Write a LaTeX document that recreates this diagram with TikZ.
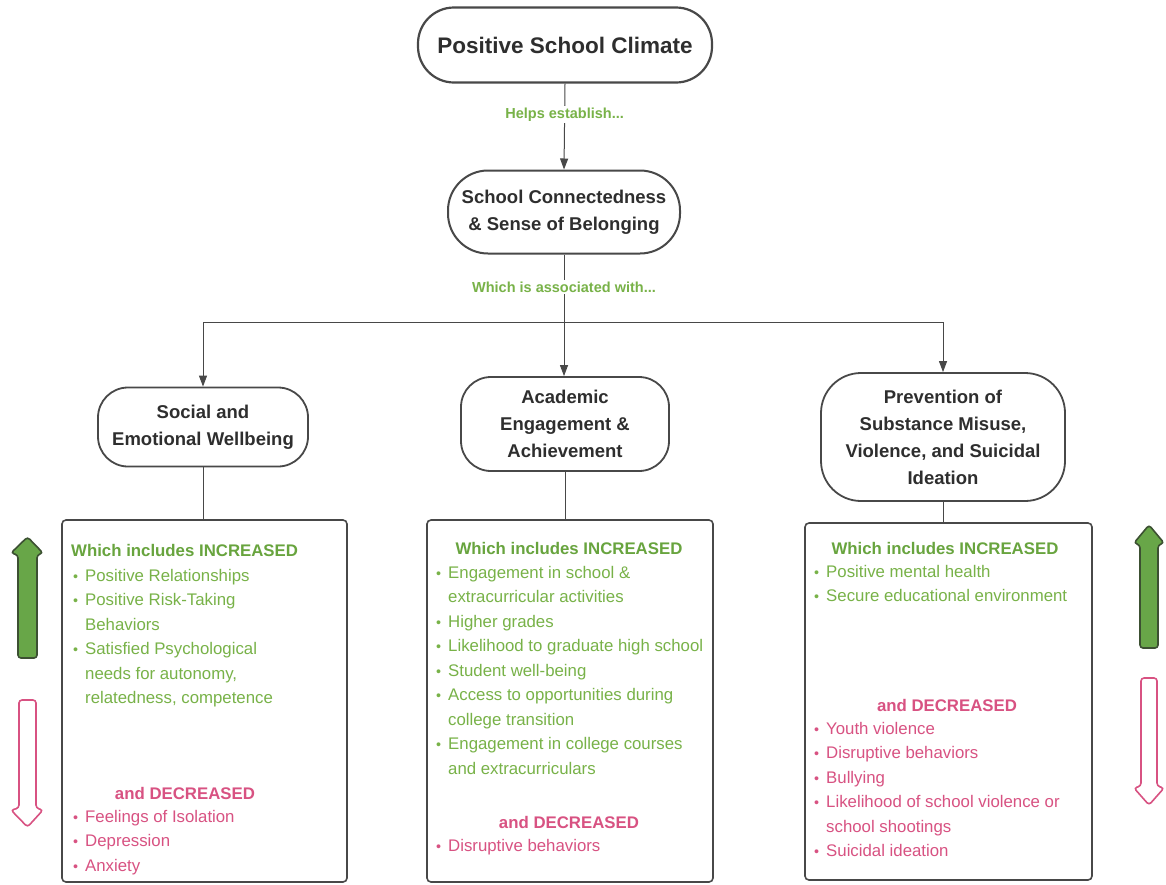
\documentclass[tikz,border=0pt]{standalone}
\usepackage{fontspec}
\setmainfont{Liberation Sans}
\usetikzlibrary{arrows.meta}
\definecolor{grn}{RGB}{120,178,72}
\definecolor{grnh}{RGB}{104,164,62}
\definecolor{pnk}{RGB}{216,82,130}
\definecolor{edgec}{RGB}{72,72,72}
\definecolor{arrg}{RGB}{104,166,72}
\definecolor{arrgd}{RGB}{60,80,50}
\newcommand\bu{\makebox[12pt][l]{\scalebox{0.85}{\textbullet}}}
\newcommand\bc{\hspace*{12pt}}
\begin{document}
\begin{tikzpicture}[x=1pt,y=-1pt,
  oval/.style={draw=edgec, line width=1.8pt, align=center, inner sep=0pt,
    font=\bfseries\fontsize{18.5}{27}\selectfont, text=black!82},
  box/.style={draw=edgec, line width=1.6pt, rounded corners=4pt, inner sep=0pt},
  conn/.style={draw=edgec, line width=1pt},
  arr/.style={conn, -{Triangle[length=11pt,width=8pt]}},
  lbl/.style={fill=white, text=grn, font=\bfseries\fontsize{14.5}{17}\selectfont, inner sep=2pt},
  hd/.style={text=grnh, font=\bfseries\fontsize{16.8}{19}\selectfont, inner sep=0pt},
  hdd/.style={text=pnk, font=\bfseries\fontsize{16.8}{19}\selectfont, inner sep=0pt},
  gtxt/.style={text=grn, align=left, inner sep=0pt, font=\fontsize{16.8}{24.5}\selectfont},
  ptxt/.style={text=pnk, align=left, inner sep=0pt, font=\fontsize{16.8}{24.5}\selectfont},
  uparr/.style={fill=arrg, draw=arrgd, line width=1.6pt, rounded corners=3pt},
  dnarr/.style={fill=white, draw=pnk, line width=1.6pt, rounded corners=3pt}
]
\useasboundingbox (0,0) rectangle (1166,884);
\fill[white] (0,0) rectangle (1166,884);

% top nodes
\node[oval, line width=2.2pt, minimum width=294pt, minimum height=75pt, rounded corners=36pt,
      font=\bfseries\fontsize{22.5}{26}\selectfont] (psc) at (565,45) {Positive School Climate};
\node[oval, line width=2pt, minimum width=232pt, minimum height=83pt, rounded corners=40pt] (scb) at (564,212)
  {School Connectedness\\\& Sense of Belonging};

% level three
\node[oval, minimum width=210pt, minimum height=79pt, rounded corners=30pt] (sew) at (203,427)
  {Social and\\Emotional Wellbeing};
\node[oval, minimum width=208pt, minimum height=94pt, rounded corners=30pt] (aea) at (565,424)
  {Academic\\Engagement \&\\Achievement};
\node[oval, minimum width=244pt, minimum height=128pt, rounded corners=40pt] (prv) at (943,437)
  {Prevention of\\Substance Misuse,\\Violence, and Suicidal\\Ideation};

% boxes
\node[box, minimum width=285pt, minimum height=362pt] (b1) at (204.5,701) {};
\node[box, minimum width=286pt, minimum height=362pt] (b2) at (570,701) {};
\node[box, minimum width=287pt, minimum height=357pt] (b3) at (948.5,701.5) {};

% connectors
\coordinate (j) at (564,322);
\draw[arr] (psc.south) -- node[lbl, pos=0.36] {Helps establish...} (scb.north);
\draw[conn] (scb.south) -- node[lbl, pos=0.48] {Which is associated with...} (j);
\draw[arr] (j) -| (sew.north);
\draw[arr] (j) -- (j |- aea.north);
\draw[arr] (j) -| (prv.north);
\draw[conn] (sew.south) -- (sew.south |- b1.north);
\draw[conn] (aea.south) -- (aea.south |- b2.north);
\draw[conn] (prv.south) -- (prv.south |- b3.north);

% left box text
\node[hd, anchor=west] (h1) at (71,550) {Which includes INCREASED};
\node[gtxt, anchor=north west] (g1) at (73,569) {%
\bu Positive Relationships\\
\bu Positive Risk-Taking\\
\bc Behaviors\\
\bu Satisfied Psychological\\
\bc needs for autonomy,\\
\bc relatedness, competence};
\node[hdd] (d1) at (185,793) {and DECREASED};
\node[ptxt, anchor=north west] (p1) at (73,810) {%
\bu Feelings of Isolation\\
\bu Depression\\
\bu Anxiety};

% middle box text
\node[hd] (h2) at (569,548) {Which includes INCREASED};
\node[gtxt, anchor=north west] (g2) at (436,566) {%
\bu Engagement in school \&\\
\bc extracurricular activities\\
\bu Higher grades\\
\bu Likelihood to graduate high school\\
\bu Student well-being\\
\bu Access to opportunities during\\
\bc college transition\\
\bu Engagement in college courses\\
\bc and extracurriculars};
\node[hdd] (d2) at (569,822) {and DECREASED};
\node[ptxt, anchor=north west] (p2) at (436,839) {%
\bu Disruptive behaviors};

% right box text
\node[hd] (h3) at (945,548) {Which includes INCREASED};
\node[gtxt, anchor=north west] (g3) at (814,565) {%
\bu Positive mental health\\
\bu Secure educational environment};
\node[hdd] (d3) at (947,705) {and DECREASED};
\node[ptxt, anchor=north west] (p3) at (814,722) {%
\bu Youth violence\\
\bu Disruptive behaviors\\
\bu Bullying\\
\bu Likelihood of school violence or\\
\bc school shootings\\
\bu Suicidal ideation};

% block arrows left
\draw[uparr] (27.5,537) -- (43,553) -- (37,555) -- (37,658) -- (18,658) -- (18,555) -- (11,553) -- cycle;
\draw[dnarr] (19,700) -- (36,700) -- (36,808) -- (43,810) -- (27.5,827) -- (11,810) -- (19,808) -- cycle;
% block arrows right
\draw[uparr] (1149,525) -- (1164,543) -- (1158,545) -- (1158,648) -- (1140,648) -- (1140,545) -- (1134,543) -- cycle;
\draw[dnarr] (1141,678) -- (1157,678) -- (1157,786) -- (1164,788) -- (1149,805) -- (1134,788) -- (1141,786) -- cycle;
\end{tikzpicture}
\end{document}
